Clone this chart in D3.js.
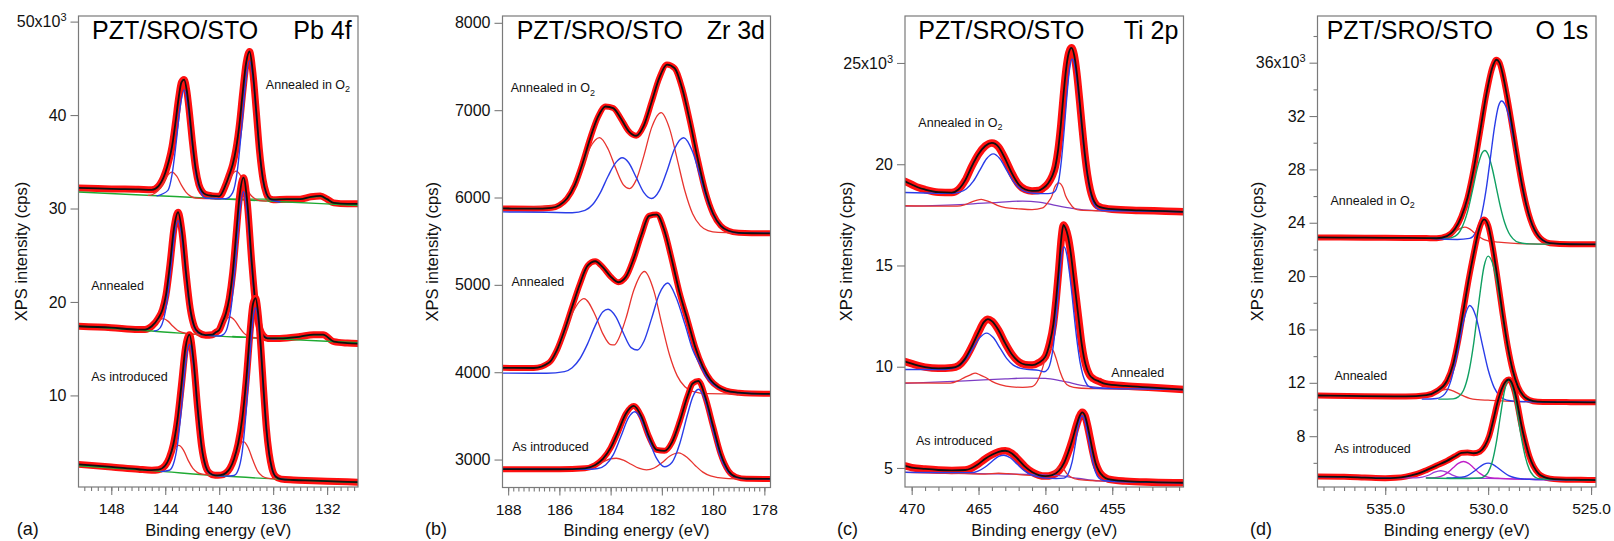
<!DOCTYPE html>
<html><head><meta charset="utf-8">
<script src="https://cdn.jsdelivr.net/npm/d3@7"></script>
<style>
body{margin:0;background:#fff;}
svg{display:block;font-family:"Liberation Sans",Arial,Helvetica,sans-serif;}
</style></head><body>
<svg id="chart" width="1614" height="541"></svg>
<script>
// ---------- tick values ----------
const aXTicks=[148,144,140,136,132], aYTicks=[10,20,30,40,50];
const bXTicks=[188,186,184,182,180,178], bYTicks=[3000,4000,5000,6000,7000,8000];
const cXTicks=[470,465,460,455], cYTicks=[5,10,15,20,25];
const dXTicks=[535,530,525], dYTicks=[8,12,16,20,24,28,32,36];

// ---------- (a) Pb 4f  [eV, kcps] ----------
const a_o2_data=[[150.43,32.2],[149,32.15],[148,32.1],[146,32.05],[145,32.0],[144.5,32.4],[144,33.8],[143.75,35.0],[143.5,36.6],[143.25,39.1],[143,41.9],[142.8,43.5],[142.6,43.8],[142.4,42.6],[142.2,40.15],[142,37.3],[141.75,34.3],[141.5,32.55],[141.25,31.8],[141,31.5],[140.5,31.35],[140,31.3],[139.5,32.6],[139.25,33.6],[139,34.7],[138.75,36.4],[138.5,39.0],[138.25,42.5],[138,45.6],[137.75,46.8],[137.5,44.5],[137.25,40.35],[137,36.0],[136.75,33.1],[136.5,31.6],[136.25,31.05],[136,30.95],[135,31.0],[134,31.0],[133.2,31.25],[132.5,31.35],[132,31.0],[131.5,30.6],[130.5,30.5],[129.71,30.5]];
const a_o2_blue=[[144.6,31.35],[143.8,31.94],[143.5,33.6],[143.2,36.9],[142.9,40.8],[142.6,42.7],[142.3,40.8],[142.0,36.9],[141.7,33.5],[141.4,31.9],[141.0,31.1],[140.0,31.05],[139.5,31.05],[139.0,31.7],[138.65,34.1],[138.35,38.4],[138.05,43.4],[137.75,45.8],[137.45,43.4],[137.15,38.4],[136.85,34.0],[136.55,31.7],[136.2,30.95],[135.5,30.7]];
const a_o2_red=[[145.25,31.4],[144.9,31.53],[144.55,31.9],[144.2,32.6],[143.85,33.5],[143.5,33.9],[143.15,33.46],[142.8,32.5],[142.45,31.73],[142.1,31.3],[141.75,31.12],[140.5,31.05],[140.15,31.2],[139.8,31.64],[139.45,32.5],[139.1,33.5],[138.75,34.0],[138.4,33.5],[138.05,32.4],[137.7,31.5],[137.35,31.04],[137.0,30.85],[136.5,30.8]];
const a_o2_green=[[150.43,31.77],[145,31.4],[140,31.05],[135,30.7],[129.71,30.33]];
const a_o2_green2=[[139.5,31.0],[136,31.0],[134,31.0],[133.2,31.2],[132.5,31.3],[132,30.95],[131.5,30.6],[130.5,30.48],[129.71,30.45]];

const a_an_data=[[150.43,17.4],[148,17.25],[146,17.05],[145.5,17.05],[145,17.4],[144.5,18.3],[144.2,19.2],[143.95,20.7],[143.65,24.0],[143.35,27.9],[143.05,29.6],[142.75,27.4],[142.45,23.0],[142.15,19.3],[141.85,17.4],[141.55,16.75],[141,16.45],[140.5,16.5],[140.25,16.75],[140,17.0],[139.75,17.85],[139.5,18.8],[139.25,20.4],[139,23.1],[138.75,27.1],[138.5,31.2],[138.2,33.3],[137.9,30.35],[137.6,24.5],[137.3,19.65],[137,17.2],[136.7,16.35],[136.4,16.1],[135.5,16.1],[134,16.3],[133,16.5],[132.3,16.5],[131.5,15.75],[130.5,15.6],[129.71,15.55]];
const a_an_blue=[[144.8,16.9],[144.55,17.0],[144.25,17.57],[143.95,19.3],[143.65,22.75],[143.35,26.8],[143.05,28.7],[142.75,26.76],[142.45,22.63],[142.15,19.1],[141.85,17.3],[141.55,16.7],[141,16.45],[140,16.35],[139.7,16.5],[139.4,17.26],[139.1,19.55],[138.8,24.05],[138.5,29.3],[138.2,31.8],[137.9,29.3],[137.6,23.97],[137.3,19.43],[137,17.12],[136.7,16.32],[136.2,16.08],[135.8,16.05]];
const a_an_red=[[145.9,17.0],[145.55,17.04],[145.2,17.2],[144.85,17.57],[144.5,18.02],[144.15,18.21],[143.8,17.95],[143.45,17.43],[143.1,16.98],[142.75,16.75],[142.4,16.65],[141.5,16.5],[140.95,16.46],[140.6,16.53],[140.25,16.81],[139.9,17.39],[139.55,18.08],[139.2,18.39],[138.85,18.03],[138.5,17.28],[138.15,16.64],[137.8,16.31],[137.45,16.18],[137,16.14],[136.5,16.1]];
const a_an_green=[[150.43,17.42],[145,16.9],[140,16.35],[135,16.0],[129.71,15.63]];
const a_an_green2=[[139,16.3],[136,16.12],[134,16.28],[133,16.48],[132.3,16.48],[131.5,15.75],[130.5,15.62],[129.71,15.6]];

const a_ai_data=[[150.43,2.62],[148,2.35],[146,2.1],[145,2.0],[144.5,2.05],[144,2.5],[143.7,3.3],[143.4,4.75],[143.1,7.3],[142.8,11.1],[142.5,15.1],[142.2,16.5],[141.9,13.7],[141.6,8.65],[141.3,4.5],[141,2.4],[140.7,1.68],[140.3,1.45],[139.9,1.47],[139.5,1.7],[139.2,2.2],[138.9,3.2],[138.6,4.8],[138.3,7.4],[138,11.6],[137.7,17.0],[137.5,19.75],[137.3,20.4],[137.1,18.6],[136.9,14.9],[136.7,10.4],[136.5,6.4],[136.3,3.8],[136.1,2.25],[135.8,1.3],[135.4,1.04],[134.5,0.95],[133,0.88],[132,0.82],[130.5,0.75],[129.71,0.72]];
const a_ai_blue=[[144.3,1.85],[143.7,1.99],[143.4,2.63],[143.1,4.64],[142.8,8.61],[142.5,13.28],[142.2,15.45],[141.9,13.21],[141.6,8.48],[141.3,4.45],[141,2.37],[140.7,1.66],[140.2,1.42],[139.5,1.36],[138.9,1.43],[138.6,1.98],[138.3,3.91],[138,8.34],[137.7,14.62],[137.5,18.05],[137.3,19.38],[137.1,18.01],[136.9,14.55],[136.7,10.23],[136.5,6.4],[136.3,3.76],[136.1,2.23],[135.8,1.3],[135.4,1.03],[135,1.0]];
const a_ai_red=[[145,1.95],[144.4,2.05],[144.05,2.4],[143.7,3.25],[143.35,4.2],[143,4.65],[142.65,4.15],[142.3,3.05],[141.95,2.2],[141.6,1.74],[141.25,1.57],[140.5,1.46],[139.95,1.43],[139.6,1.58],[139.25,2.08],[138.9,3.2],[138.55,4.45],[138.2,5.05],[137.85,4.4],[137.5,3.05],[137.15,1.9],[136.8,1.34],[136.45,1.15],[135.8,1.06]];
const a_ai_green=[[150.43,2.47],[145,1.95],[140,1.4],[135,1.0],[129.71,0.68]];

// ---------- (b) Zr 3d  [eV, cps] ----------
const b_o2_data=[[188.22,5875],[187,5872],[186.3,5882],[186,5912],[185.7,5989],[185.4,6142],[185.1,6387],[184.8,6676],[184.5,6919],[184.2,7042],[183.9,7024],[183.6,6904],[183.3,6761],[183,6707],[182.7,6826],[182.4,7094],[182.1,7370],[181.8,7522],[181.5,7480],[181.2,7241],[180.9,6865],[180.6,6442],[180.3,6069],[180,5814],[179.7,5676],[179.4,5619],[179,5596],[178.5,5591],[177.76,5590]];
const b_o2_red=[[188.22,5875],[186,5912],[185.7,5987],[185.4,6131],[185.1,6350],[184.8,6572],[184.43,6686],[184.1,6556],[183.8,6334],[183.5,6145],[183.26,6102],[183,6202],[182.7,6480],[182.4,6800],[182.03,6972],[181.7,6789],[181.4,6437],[181.1,6074],[180.8,5814],[180.5,5678],[180.2,5621],[179.8,5600],[178,5590],[177.76,5590]];
const b_o2_blue=[[188.22,5835],[186.5,5831],[185.5,5826],[185,5853],[184.7,5919],[184.4,6056],[184.1,6244],[183.8,6399],[183.55,6455],[183.3,6401],[183,6230],[182.7,6056],[182.4,5988],[182.1,6078],[181.8,6304],[181.5,6561],[181.15,6685],[180.8,6524],[180.5,6235],[180.2,5949],[179.9,5752],[179.6,5651],[179.3,5610],[179,5594],[178,5590],[177.76,5590]];

const b_an_data=[[188.22,4050],[187,4048],[186.4,4110],[186.1,4250],[185.8,4480],[185.5,4750],[185.2,5010],[184.9,5220],[184.6,5270],[184.3,5200],[184,5095],[183.7,5030],[183.4,5092],[183.1,5300],[182.8,5570],[182.5,5790],[182.2,5805],[181.9,5620],[181.6,5274],[181.3,4900],[181,4600],[180.7,4290],[180.4,4060],[180.1,3910],[179.8,3830],[179.5,3790],[179,3765],[178.5,3755],[177.76,3752]];
const b_an_red=[[188.22,4050],[187,4048],[186.4,4120],[186.1,4245],[185.8,4450],[185.5,4673],[185.04,4843],[184.6,4653],[184.3,4439],[184,4316],[183.85,4312],[183.7,4375],[183.4,4619],[183.1,4935],[182.68,5153],[182.3,4920],[182,4548],[181.7,4197],[181.4,3958],[181.1,3833],[180.8,3781],[180.2,3754],[179,3750],[177.76,3750]];
const b_an_blue=[[188.22,3990],[186.5,3988],[185.8,4007],[185.5,4051],[185.2,4154],[184.9,4324],[184.6,4533],[184.3,4693],[184.1,4720],[183.8,4636],[183.5,4446],[183.2,4282],[182.95,4254],[182.7,4354],[182.4,4616],[182.1,4895],[181.77,5021],[181.45,4860],[181.1,4550],[180.8,4260],[180.5,4080],[180.2,3920],[179.9,3840],[179.5,3790],[179,3765],[178,3752],[177.76,3752]];

const b_ai_data=[[188.22,2890],[186,2889],[185,2900],[184.6,2938],[184.3,3008],[184,3134],[183.7,3325],[183.4,3527],[183.1,3614],[182.8,3494],[182.5,3260],[182.2,3110],[181.9,3100],[181.6,3200],[181.3,3439],[181,3724],[180.8,3870],[180.57,3899],[180.3,3710],[180,3380],[179.7,3060],[179.4,2870],[179.1,2800],[178.7,2780],[177.76,2778]];
const b_ai_blue=[[188.22,2890],[186,2889],[184.8,2889],[184.5,2897],[184.2,2937],[183.9,3054],[183.6,3263],[183.3,3480],[183.06,3547],[182.8,3457],[182.5,3221],[182.2,3010],[181.9,2917],[181.6,2969],[181.3,3184],[181,3515],[180.8,3714],[180.57,3805],[180.3,3668],[180,3327],[179.7,3020],[179.4,2854],[179.1,2796],[178.7,2779],[177.76,2778]];
const b_ai_red=[[188.22,2890],[186,2889],[185.2,2893],[184.9,2905],[184.6,2931],[184.3,2972],[184,3009],[183.78,3015],[183.5,2993],[183.2,2946],[182.9,2901],[182.6,2882],[182.3,2903],[182,2963],[181.7,3038],[181.35,3077],[181,3021],[180.7,2933],[180.4,2856],[180.1,2812],[179.8,2792],[179.4,2782],[178.5,2779],[177.76,2778]];

// ---------- (c) Ti 2p  [eV, kcps] ----------
const c_o2_data=[[470.5,19.15],[470,19.0],[469.5,18.85],[469,18.75],[468,18.62],[467,18.6],[466.5,18.75],[466,19.2],[465.5,19.9],[465,20.5],[464.5,20.9],[464,21.05],[463.5,20.85],[463,20.25],[462.5,19.55],[462,19.0],[461.5,18.75],[461,18.68],[460.5,18.7],[460.2,18.8],[459.8,19.05],[459.5,19.4],[459.25,19.9],[459.05,20.7],[458.85,21.9],[458.65,23.4],[458.45,24.7],[458.25,25.5],[458.05,25.75],[457.85,25.4],[457.65,24.5],[457.45,23.2],[457.25,21.8],[457.05,20.5],[456.85,19.47],[456.65,18.75],[456.45,18.3],[456.2,18.0],[455.9,17.88],[455.5,17.82],[455,17.78],[453,17.72],[451,17.68],[449.67,17.65]];
const c_o2_blue=[[470.5,18.6],[468,18.57],[466.9,18.57],[466.4,18.62],[465.9,18.79],[465.4,19.15],[464.9,19.71],[464.4,20.27],[463.9,20.51],[463.4,20.27],[462.9,19.71],[462.4,19.15],[461.9,18.79],[461.4,18.62],[460.9,18.57],[460.3,18.55],[459.8,18.55],[459.4,18.6],[459.2,18.75],[459,19.2],[458.8,20.2],[458.6,21.65],[458.4,23.3],[458.2,24.67],[458,25.2],[457.8,24.86],[457.6,23.93],[457.4,22.66],[457.2,21.3],[457,20.13],[456.8,19.2],[456.6,18.5],[456.4,18.1],[456.2,17.85],[455.8,17.72],[454,17.7],[452,17.68],[449.67,17.65]];
const c_o2_red=[[470.5,17.95],[468,17.93],[466.6,17.93],[466,18.01],[465.5,18.14],[465.1,18.23],[464.8,18.26],[464.5,18.22],[464.1,18.13],[463.6,17.97],[463,17.86],[462,17.8],[461,17.76],[460.2,17.84],[459.8,18.12],[459.5,18.45],[459.3,18.87],[459,19.08],[458.7,18.86],[458.5,18.46],[458.2,18.1],[457.8,17.8],[457.4,17.73],[456,17.7],[449.67,17.66]];
const c_o2_purple=[[470.5,17.93],[466,18.02],[463.5,18.12],[461.7,18.18],[460.5,18.13],[459.5,18.0],[458,17.82],[456.5,17.72],[454,17.69],[449.67,17.66]];

const c_an_data=[[470.5,10.25],[470,10.15],[469.5,10.05],[469,9.98],[468,9.92],[467,9.95],[466.5,10.05],[466,10.4],[465.5,11.0],[465,11.7],[464.6,12.2],[464.3,12.35],[464,12.25],[463.5,11.8],[463,11.15],[462.5,10.6],[462,10.25],[461.5,10.1],[461,10.08],[460.5,10.2],[460,10.5],[459.7,11.1],[459.4,12.1],[459.2,13.3],[459,14.8],[458.8,16.4],[458.65,17.0],[458.5,16.85],[458.3,16.4],[458.1,15.6],[457.9,14.5],[457.7,13.4],[457.5,12.3],[457.3,11.2],[457.1,10.4],[456.9,9.9],[456.7,9.6],[456.4,9.4],[456,9.28],[455.5,9.15],[454,9.05],[452,8.97],[449.67,8.87]];
const c_an_blue=[[470.5,9.86],[467.5,9.86],[466.9,9.93],[466.4,10.08],[465.9,10.41],[465.4,10.93],[464.9,11.44],[464.4,11.66],[463.9,11.44],[463.4,10.93],[462.9,10.41],[462.4,10.08],[461.9,9.93],[461.4,9.87],[460.5,9.82],[460.1,9.75],[459.8,9.89],[459.6,10.26],[459.4,11.06],[459.2,12.38],[459,14.0],[458.8,15.4],[458.6,15.92],[458.4,15.55],[458.2,14.64],[458,13.5],[457.8,12.23],[457.6,11.1],[457.4,10.2],[457.2,9.6],[457,9.25],[456.8,9.05],[456.4,8.95],[455,8.92],[452,8.9],[449.67,8.87]];
const c_an_red=[[470.5,9.2],[468,9.19],[467.1,9.19],[466.5,9.31],[466,9.49],[465.6,9.6],[465.25,9.68],[464.9,9.6],[464.5,9.48],[464,9.28],[463.4,9.12],[462.5,9.0],[461.7,8.98],[461,9.02],[460.6,9.28],[460.3,9.75],[460,10.41],[459.8,10.77],[459.6,10.9],[459.4,10.77],[459.2,10.41],[458.9,9.75],[458.6,9.28],[458.2,9.04],[457.5,8.95],[456,8.92],[449.67,8.87]];
const c_an_purple=[[470.5,9.18],[466,9.3],[463,9.4],[461.5,9.44],[460,9.42],[458.8,9.3],[457,9.05],[455,8.92],[452,8.9],[449.67,8.87]];

const c_ai_data=[[470.5,5.1],[470,5.02],[469,4.95],[468,4.9],[467,4.88],[466,4.9],[465.5,5.0],[465,5.2],[464.5,5.45],[464,5.65],[463.5,5.8],[463,5.85],[462.5,5.72],[462,5.4],[461.5,5.05],[461,4.8],[460.5,4.65],[460,4.6],[459.5,4.65],[459,4.85],[458.6,5.25],[458.3,5.75],[458,6.35],[457.7,7.05],[457.45,7.55],[457.25,7.75],[457.05,7.6],[456.85,7.1],[456.65,6.45],[456.45,5.8],[456.25,5.25],[456,4.85],[455.7,4.6],[455.3,4.45],[454,4.35],[452,4.3],[449.67,4.27]];
const c_ai_blue=[[470.5,4.78],[466.5,4.77],[465.5,4.77],[465,4.86],[464.5,5.05],[464,5.32],[463.5,5.57],[463.1,5.63],[462.6,5.49],[462.1,5.18],[461.6,4.88],[461.1,4.67],[460.5,4.56],[460,4.5],[459.2,4.48],[458.6,4.5],[458.3,4.7],[458,5.3],[457.75,6.22],[457.5,7.2],[457.25,7.58],[457,7.2],[456.75,6.33],[456.5,5.43],[456.25,4.8],[456,4.5],[455.6,4.37],[453,4.3],[449.67,4.27]];
const c_ai_red=[[470.5,4.78],[466,4.72],[464.5,4.7],[463.5,4.74],[462.8,4.72],[461.5,4.65],[460.3,4.62],[459.7,4.65],[459.35,4.8],[459.1,4.98],[458.9,5.05],[458.65,4.95],[458.4,4.72],[458.1,4.55],[457.5,4.42],[455,4.33],[449.67,4.27]];
const c_ai_purple=[[470.5,4.78],[465,4.72],[461,4.68],[459,4.62],[457.5,4.48],[456,4.36],[453,4.3],[449.67,4.27]];

// ---------- (d) O 1s  [eV, kcps] ----------
const d_o2_data=[[538.29,22.9],[536,22.88],[534,22.86],[533,22.85],[532.5,22.84],[532,23.0],[531.6,23.56],[531.3,24.46],[531,25.88],[530.7,28.04],[530.4,30.74],[530.1,33.52],[529.8,35.62],[529.6,36.22],[529.45,36.0],[529.3,35.19],[529.2,34.45],[528.95,32.33],[528.75,30.44],[528.55,28.54],[528.35,26.8],[528.15,25.35],[527.95,24.25],[527.75,23.48],[527.55,22.99],[527.35,22.7],[527,22.47],[526,22.39],[524.76,22.38]];
const d_o2_blue=[[532.8,22.84],[531.5,22.75],[530.9,22.83],[530.6,23.3],[530.35,24.38],[530.1,26.46],[529.9,28.74],[529.7,31.08],[529.5,32.73],[529.35,33.13],[529.15,32.75],[528.95,31.7],[528.75,30.17],[528.55,28.44],[528.35,26.77],[528.15,25.35],[527.95,24.25],[527.75,23.48],[527.55,22.99],[527.35,22.7],[527,22.47],[526,22.39],[524.76,22.38]];
const d_o2_green=[[533,22.85],[532,22.83],[531.6,23.0],[531.3,23.56],[531,24.83],[530.75,26.51],[530.5,28.27],[530.3,29.22],[530.16,29.42],[530,29.12],[529.8,28.07],[529.6,26.62],[529.4,25.17],[529.2,24.02],[529,23.25],[528.8,22.81],[528.5,22.52],[528,22.42],[527,22.4]];
const d_o2_red=[[533,22.85],[532.3,22.86],[532,22.97],[531.75,23.17],[531.5,23.44],[531.3,23.62],[531.13,23.67],[530.95,23.58],[530.75,23.35],[530.5,23.02],[530.25,22.77],[530,22.65],[529.5,22.55],[528,22.42],[526,22.39],[524.76,22.38]];

const d_an_data=[[538.29,11.05],[536,11.0],[534,10.98],[533,11.07],[532.5,11.37],[532,12.15],[531.7,13.4],[531.45,15.2],[531.2,17.45],[530.95,19.7],[530.7,21.7],[530.45,23.45],[530.2,24.25],[530,23.8],[529.8,22.35],[529.55,19.9],[529.3,17.2],[529.05,14.75],[528.8,12.9],[528.55,11.7],[528.3,11.05],[528,10.72],[527.6,10.59],[526,10.55],[524.76,10.54]];
const d_an_green=[[532.4,10.78],[531.7,10.8],[531.45,10.95],[531.2,11.42],[530.95,12.7],[530.7,14.98],[530.45,18.06],[530.2,20.72],[530,21.5],[529.8,21.03],[529.55,19.33],[529.3,16.98],[529.05,14.68],[528.8,12.88],[528.55,11.71],[528.3,11.06],[528,10.72],[527.6,10.59],[527,10.56]];
const d_an_blue=[[533.2,10.78],[532.5,10.83],[532.1,11.17],[531.8,12.2],[531.5,14.2],[531.2,16.6],[530.89,17.8],[530.6,17.0],[530.3,15.0],[530,12.98],[529.7,11.62],[529.4,10.95],[529.1,10.7],[528.5,10.6],[527,10.56],[524.76,10.54]];
const d_an_red=[[538.29,11.05],[534,10.98],[533.2,11.02],[532.8,11.14],[532.5,11.32],[532.25,11.45],[532,11.52],[531.75,11.42],[531.5,11.24],[531.2,11.02],[530.9,10.84],[530.5,10.74],[530,10.7],[528,10.58],[524.76,10.54]];

const d_ai_data=[[538.29,4.97],[537,4.95],[536,4.9],[535,4.85],[534.5,4.88],[534,4.97],[533.5,5.15],[533,5.45],[532.5,5.8],[532,6.15],[531.6,6.5],[531.3,6.75],[531,6.78],[530.7,6.72],[530.4,6.85],[530.15,7.3],[529.95,8.0],[529.75,9.2],[529.55,10.5],[529.35,11.5],[529.15,12.1],[529,12.25],[528.85,12.0],[528.7,11.3],[528.55,10.2],[528.4,8.95],[528.2,7.6],[528,6.5],[527.8,5.75],[527.55,5.2],[527.3,4.95],[527,4.82],[526.5,4.76],[525.5,4.73],[524.76,4.71]];
const d_ai_green=[[533,4.87],[531,4.83],[530.4,4.86],[530.2,4.97],[530,5.29],[529.8,6.08],[529.6,7.55],[529.4,9.57],[529.2,11.44],[529,12.2],[528.8,11.55],[528.6,9.92],[528.4,8.02],[528.2,6.49],[528,5.51],[527.8,5.03],[527.6,4.84],[527.2,4.77],[526.5,4.74],[525.5,4.72],[524.76,4.71]];
const d_ai_blue=[[532,4.86],[531.6,4.88],[531.3,4.92],[531,5.05],[530.7,5.35],[530.4,5.71],[530.2,5.91],[530,5.98],[529.8,5.91],[529.6,5.71],[529.3,5.35],[529,5.04],[528.7,4.88],[528.4,4.81],[528,4.77],[527,4.74],[524.76,4.71]];
const d_ai_magenta=[[533,4.87],[532.6,4.89],[532.3,4.98],[532,5.23],[531.7,5.63],[531.45,5.96],[531.2,6.1],[530.95,5.96],[530.7,5.62],[530.4,5.21],[530.1,4.96],[529.8,4.87],[529.4,4.84],[528,4.77],[524.76,4.71]];
const d_ai_violet=[[538.29,4.95],[535,4.9],[534,4.88],[533.5,4.88],[533.2,4.93],[532.9,5.07],[532.6,5.3],[532.3,5.41],[532,5.29],[531.7,5.06],[531.4,4.91],[531,4.85],[530,4.83],[528,4.76],[524.76,4.71]];

// ---------- styles ----------
const ST={
  fit:{c:'#101010',w:1.8},
  blue:{c:'#2a3de8',w:1.4},
  red:{c:'#e8342f',w:1.3},
  green:{c:'#1faa33',w:1.4},
  teal:{c:'#10a062',w:1.4},
  purple:{c:'#7c3cc4',w:1.3},
  magenta:{c:'#c01ec8',w:1.3},
  violet:{c:'#9a3cd8',w:1.3}
};
const DATA_COLOR='#ff1010';

const panels=[
 {l:78.5,r:358,t:16,b:487,xd:[150.43,129.71],yd:[0.2,50.6],xt:aXTicks,xm:d3.range(130,150.01,0.5),yt:aYTicks,ym:[],xf:d=>d,dw:7,
  spectra:[
   {data:a_o2_data,comps:[[a_o2_green,'green'],[a_o2_green2,'green'],[a_o2_red,'red'],[a_o2_blue,'blue']]},
   {data:a_an_data,comps:[[a_an_green,'green'],[a_an_green2,'green'],[a_an_red,'red'],[a_an_blue,'blue']]},
   {data:a_ai_data,comps:[[a_ai_green,'green'],[a_ai_red,'red'],[a_ai_blue,'blue']]}],
  labels:[['Annealed in O','2',136.54,43.3],['Annealed','',149.49,21.8],['As introduced','',149.49,12.03]],
  titleX:92,elem:'Pb 4f',elemX:351.7,letter:'(a)',letterX:16.7,ytX:21},
 {l:502.5,r:770.5,t:16,b:487.5,xd:[188.22,177.76],yd:[2680,8078],xt:bXTicks,xm:d3.range(178,188.01,0.2),yt:bYTicks,ym:[],xf:d=>d,dw:6,
  spectra:[
   {data:b_o2_data,comps:[[b_o2_red,'red'],[b_o2_blue,'blue']]},
   {data:b_an_data,comps:[[b_an_red,'red'],[b_an_blue,'blue']]},
   {data:b_ai_data,comps:[[b_ai_red,'red'],[b_ai_blue,'blue']]}],
  labels:[['Annealed in O','2',187.9,7254],['Annealed','',187.87,5041],['As introduced','',187.84,3155]],
  titleX:516.7,elem:'Zr 3d',elemX:765,letter:'(b)',letterX:425,ytX:432},
 {l:905,r:1183.5,t:16,b:487,xd:[470.5,449.67],yd:[4.06,27.32],xt:cXTicks,xm:d3.range(450,470.01,1),yt:cYTicks,ym:[],xf:d=>d,dw:7.5,
  spectra:[
   {data:c_o2_data,comps:[[c_o2_purple,'purple'],[c_o2_red,'red'],[c_o2_blue,'blue']]},
   {data:c_an_data,comps:[[c_an_purple,'purple'],[c_an_red,'red'],[c_an_blue,'blue']]},
   {data:c_ai_data,comps:[[c_ai_purple,'purple'],[c_ai_red,'red'],[c_ai_blue,'blue']]}],
  labels:[['Annealed in O','2',469.5,22.06],['Annealed','',455.07,9.7],['As introduced','',469.68,6.37]],
  titleX:918.3,elem:'Ti 2p',elemX:1178.3,letter:'(c)',letterX:837,ytX:846},
 {l:1317.5,r:1596,t:16,b:487,xd:[538.29,524.76],yd:[4.19,39.5],xt:dXTicks,xm:d3.range(525,538.01,0.5),yt:dYTicks,ym:d3.range(6,39,4),xf:d3.format('.1f'),dw:6,
  spectra:[
   {data:d_o2_data,comps:[[d_o2_red,'red'],[d_o2_green,'teal'],[d_o2_blue,'blue']]},
   {data:d_an_data,comps:[[d_an_red,'red'],[d_an_green,'teal'],[d_an_blue,'blue']]},
   {data:d_ai_data,comps:[[d_ai_violet,'violet'],[d_ai_magenta,'magenta'],[d_ai_blue,'blue'],[d_ai_green,'teal']]}],
  labels:[['Annealed in O','2',537.66,25.69],['Annealed','',537.47,12.53],['As introduced','',537.47,7.1]],
  titleX:1326.7,elem:'O 1s',elemX:1588.3,letter:'(d)',letterX:1250,ytX:1257}
];

const svg=d3.select('#chart');
const FRAME='#7a7a7a';
const FONT='"Liberation Sans",Arial,sans-serif';

panels.forEach((p,i)=>{
  const x=d3.scaleLinear().domain(p.xd).range([p.l,p.r]);
  const y=d3.scaleLinear().domain(p.yd).range([p.b,p.t]);
  const g=svg.append('g');
  const cid='clip'+i;
  g.append('clipPath').attr('id',cid).append('rect')
    .attr('x',p.l).attr('y',p.t).attr('width',p.r-p.l).attr('height',p.b-p.t);
  const line=d3.line().x(d=>x(d[0])).y(d=>y(d[1])).curve(d3.curveMonotoneX);
  const plot=g.append('g').attr('clip-path',`url(#${cid})`);
  const draw=(arr,c,w)=>plot.append('path').datum(arr).attr('d',line)
      .attr('fill','none').attr('stroke',c).attr('stroke-width',w)
      .attr('stroke-linejoin','round').attr('stroke-linecap','round');
  p.spectra.forEach(sp=>{
    draw(sp.data,DATA_COLOR,p.dw);
    sp.comps.forEach(c=>draw(c[0],ST[c[1]].c,ST[c[1]].w));
    draw(sp.data,ST.fit.c,ST.fit.w);
  });

  // frame
  g.append('rect').attr('x',p.l).attr('y',p.t).attr('width',p.r-p.l).attr('height',p.b-p.t)
    .attr('fill','none').attr('stroke',FRAME).attr('stroke-width',1.2);

  // x axis
  const lo=Math.min(...p.xd), hi=Math.max(...p.xd);
  const xMinor=g.append('g').attr('transform',`translate(0,${p.b})`)
    .call(d3.axisBottom(x).tickValues(p.xm.filter(v=>v>=lo&&v<=hi)).tickSize(4).tickFormat(''));
  const xMajor=g.append('g').attr('transform',`translate(0,${p.b})`)
    .call(d3.axisBottom(x).tickValues(p.xt).tickSize(8).tickPadding(8).tickFormat(p.xf));
  [xMinor,xMajor].forEach(a=>{a.select('.domain').remove();a.selectAll('line').attr('stroke',FRAME).attr('stroke-width',1.1);});
  xMajor.selectAll('text').attr('font-size',15.5).attr('font-family',FONT).attr('fill','#111');

  // y axis
  if(p.ym.length){
    const yMinor=g.append('g').attr('transform',`translate(${p.l},0)`)
      .call(d3.axisLeft(y).tickValues(p.ym).tickSize(4).tickFormat(''));
    yMinor.select('.domain').remove();
    yMinor.selectAll('line').attr('stroke',FRAME).attr('stroke-width',1.1);
  }
  const top=p.yt[p.yt.length-1];
  const yAx=g.append('g').attr('transform',`translate(${p.l},0)`)
    .call(d3.axisLeft(y).tickValues(p.yt).tickSize(8).tickPadding(4).tickFormat(d3.format('d')));
  yAx.select('.domain').remove();
  yAx.selectAll('line').attr('stroke',FRAME).attr('stroke-width',1.1);
  yAx.selectAll('text').attr('font-size',16).attr('font-family',FONT).attr('fill','#111')
    .each(function(d){
      if(d===top && p.yd[1]<1000){
        const t=d3.select(this); t.text('');
        t.append('tspan').text(d+'x10');
        t.append('tspan').text('3').attr('font-size',11).attr('dy','-0.55em');
      }
    });

  // titles
  g.append('text').attr('x',p.titleX).attr('y',39).attr('font-size',25).attr('fill','#000').text('PZT/SRO/STO');
  g.append('text').attr('x',p.elemX).attr('y',39).attr('font-size',25).attr('text-anchor','end').attr('fill','#000').text(p.elem);

  // spectrum labels
  p.labels.forEach(L=>{
    const t=g.append('text').attr('x',x(L[2])).attr('y',y(L[3])+4.5).attr('font-size',12.5).attr('fill','#111');
    t.append('tspan').text(L[0]);
    if(L[1]) t.append('tspan').text(L[1]).attr('font-size',9).attr('dy','0.35em');
  });

  // axis titles
  g.append('text').attr('x',(p.l+p.r)/2).attr('y',535.5).attr('text-anchor','middle').attr('font-size',16.5).attr('fill','#111').text('Binding energy (eV)');
  g.append('text').attr('transform',`translate(${p.ytX},${(p.t+p.b)/2}) rotate(-90)`).attr('text-anchor','middle')
    .attr('dominant-baseline','central').attr('font-size',16.5).attr('fill','#111').text('XPS intensity (cps)');
  g.append('text').attr('x',p.letterX).attr('y',535).attr('font-size',18).attr('fill','#111').text(p.letter);
});
</script>
</body></html>
